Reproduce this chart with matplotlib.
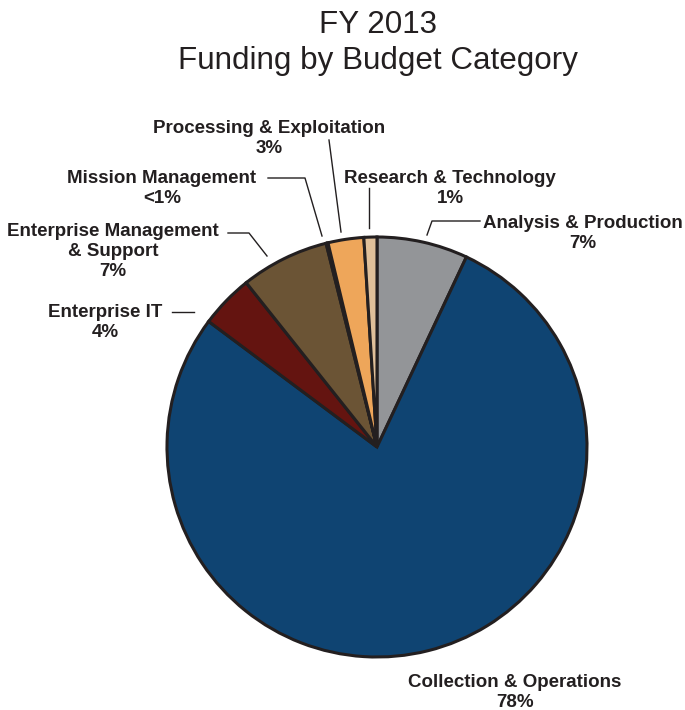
import matplotlib
matplotlib.use("Agg")
import matplotlib.pyplot as plt
from matplotlib.lines import Line2D

categories = ["Analysis & Production", "Collection & Operations", "Enterprise IT",
              "Enterprise Management\n& Support", "Mission Management",
              "Processing & Exploitation", "Research & Technology"]
values = [7.0, 78.2, 4.1, 6.8, 0.15, 2.75, 1.0]
pct_labels = ["7%", "78%", "4%", "7%", "<1%", "3%", "1%"]
colors = ["#939598", "#0f4472", "#641410", "#6b5435", "#6b5435", "#eea65a", "#e0c09a"]

W, H = 685, 710
fig = plt.figure(figsize=(W / 100, H / 100), dpi=100)

cx, cy, r = 377, 447, 210
ax = fig.add_axes([(cx - r) / W, 1 - (cy + r) / H, 2 * r / W, 2 * r / H])
ax.pie(values, colors=colors, startangle=90, counterclock=False, radius=1,
       wedgeprops=dict(edgecolor="#231f20", linewidth=2.2))
ax.set_xlim(-1, 1)
ax.set_ylim(-1, 1)
ax.set_aspect("equal")
ax.axis("off")

def fx(x):
    return x / W

def fy(y):
    return 1 - y / H

title_font = "Liberation Sans"
fig.text(fx(378), fy(25), "FY 2013", ha="center", va="center", fontsize=22.6,
         family=title_font, color="#231f20")
fig.text(fx(378), fy(61), "Funding by Budget Category", ha="center", va="center",
         fontsize=22.6, family=title_font, color="#231f20")

# label placement (pixel centers of first line)
pos = {
    0: (583, 222),
    1: (515, 681),
    2: (105, 311),
    3: (113, 230),
    4: (162, 177),
    5: (269, 127),
    6: (450, 177),
}
for i, (x, y) in pos.items():
    fig.text(fx(x), fy(y - 7), categories[i] + "\n" + pct_labels[i], ha="center", va="top",
             fontsize=13.5, fontweight="bold", family="Liberation Sans",
             color="#231f20", linespacing=1.22)

leaders = [
    [(480, 221), (432, 221), (427, 235)],
    [(172, 312), (194, 312)],
    [(228, 233), (249, 233), (267, 256)],
    [(268, 178), (305, 178), (322, 236)],
    [(329, 140), (341, 232)],
    [(369, 188), (369, 228)],
]
for pts in leaders:
    xs = [fx(p[0]) for p in pts]
    ys = [fy(p[1]) for p in pts]
    fig.add_artist(Line2D(xs, ys, color="#231f20", linewidth=1.0,
                          transform=fig.transFigure))

fig.savefig("out.png", dpi=100)
